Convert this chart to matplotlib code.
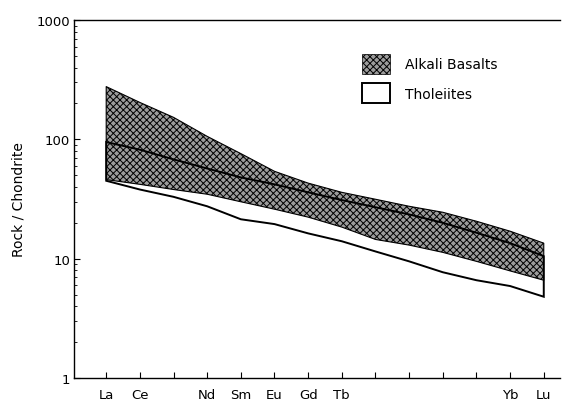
import numpy as np
import matplotlib.pyplot as plt
from matplotlib.patches import Patch

elements = ['La', 'Ce', 'Pr', 'Nd', 'Sm', 'Eu', 'Gd', 'Tb', 'Dy', 'Ho', 'Er', 'Tm', 'Yb', 'Lu']
shown = ['La', 'Ce', 'Nd', 'Sm', 'Eu', 'Gd', 'Tb', 'Yb', 'Lu']

# chondrite-normalised envelopes
alkali_upper = [277, 204, 153, 106, 76, 54, 43, 36, 31.5, 27.5, 24.5, 20.6, 17, 13.5]
alkali_lower = [46, 42, 38, 34.7, 30, 26, 22.3, 18.4, 14.5, 13, 11.3, 9.5, 7.9, 6.6]
thol_upper = [95, 82, 68, 57, 48, 42, 36, 31, 27, 23.5, 20, 16.5, 13.5, 10.5]
thol_lower = [45, 38, 33, 27.5, 21.4, 19.5, 16.3, 14.0, 11.5, 9.5, 7.7, 6.6, 5.9, 4.8]

x = np.arange(1, len(elements) + 1)

plt.rcParams['hatch.linewidth'] = 0.7
fig = plt.figure(figsize=(5.71, 4.10), dpi=100)
ax = fig.add_axes([0.13, 0.0756, 0.85, 0.873])

ax.fill_between(x, alkali_lower, alkali_upper, facecolor='#9c9c9c',
                edgecolor='black', hatch='xxxxx', linewidth=0.8, zorder=2)
ax.fill(np.r_[x, x[::-1]], np.r_[thol_upper, thol_lower[::-1]],
        facecolor='none', edgecolor='black', linewidth=1.4, zorder=3)

ax.set_yscale('log')
ax.set_ylim(1, 1000)
ax.set_xlim(0.05, 14.47)
ax.set_yticks([1, 10, 100, 1000])
ax.set_yticklabels(['1', '10', '100', '1000'])
ax.set_xticks(x)
ax.set_xticklabels([e if e in shown else '' for e in elements])
ax.tick_params(axis='both', which='both', direction='in', labelsize=9.5)
ax.tick_params(axis='y', which='major', length=4, pad=3)
ax.tick_params(axis='y', which='minor', length=2)
ax.tick_params(axis='x', length=4, pad=7)
ax.spines['right'].set_visible(False)
for s in ['left', 'bottom', 'top']:
    ax.spines[s].set_linewidth(1.0)
ax.set_ylabel('Rock / Chondrite', fontsize=10, labelpad=8)

handles = [Patch(facecolor='#9c9c9c', edgecolor='black', hatch='xxxxx', linewidth=0.5),
           Patch(facecolor='white', edgecolor='black', linewidth=1.4)]
ax.legend(handles, ['Alkali Basalts', 'Tholeiites'], loc='upper left',
          bbox_to_anchor=(0.593, 0.905), frameon=False, fontsize=10,
          borderpad=0, borderaxespad=0,
          handlelength=2.0, handleheight=1.8, labelspacing=0.7, handletextpad=1.1)

fig.savefig('out.png', dpi=100)
